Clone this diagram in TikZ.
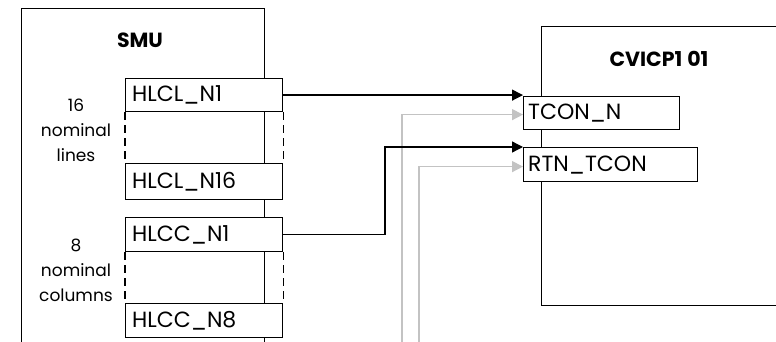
\documentclass[tikz,border=0pt]{standalone}
\usepackage{fontspec}
\setmainfont{Poppins}
\usetikzlibrary{arrows.meta}
\definecolor{lgrey}{RGB}{195,195,195}
\tikzset{
  container/.style={draw=black, line width=1.2pt, anchor=north west, inner sep=0pt},
  port/.style={draw=black, fill=white, line width=1.2pt, anchor=north west, inner sep=0pt,
    minimum height=#1},
  porttext/.style={anchor=west, inner sep=0pt, font=\fontsize{22}{24}\selectfont},
  title/.style={font=\fontsize{20.5}{24}\selectfont\bfseries, inner sep=0pt},
  note/.style={align=center, inner sep=0pt, font=\fontsize{17}{25}\selectfont},
  dashedge/.style={line width=1.2pt, dash pattern=on 8pt off 5pt},
  wire/.style={line width=1.3pt, -{Triangle[length=11pt,width=11pt]}},
  greywire/.style={line width=1.4pt, draw=lgrey, -{Triangle[length=11pt,width=11pt,fill=lgrey]}}
}
\begin{document}
\begin{tikzpicture}[x=1pt,y=-1pt]
\useasboundingbox (0,0) rectangle (776,342);
\clip (0,0) rectangle (776,342);
% containers
\node[container, minimum width=243pt, minimum height=360pt] (smu) at (21,8) {};
\node[container, minimum width=260pt, minimum height=279pt] (cvi) at (541,26) {};
\node[title] (smut) at (140,40) {SMU};
\node[title] (cvit) at (659,59) {CVICP1\hspace{5pt}01};
% SMU ports
\node[port=33pt, minimum width=157pt] (hl1) at (125,78) {};
\node[porttext] at ([xshift=7pt]hl1.west) {HLCL\_N1};
\node[port=36pt, minimum width=157pt] (hl16) at (125,163) {};
\node[porttext] at ([xshift=7pt]hl16.west) {HLCL\_N16};
\node[port=34pt, minimum width=157pt] (hc1) at (125,217) {};
\node[porttext] at ([xshift=7pt]hc1.west) {HLCC\_N1};
\node[port=34pt, minimum width=157pt] (hc8) at (125,303) {};
\node[porttext] at ([xshift=7pt]hc8.west) {HLCC\_N8};
\draw[dashedge] (hl1.south west) -- (hl16.north west);
\draw[dashedge] (hl1.south east) -- (hl16.north east);
\draw[dashedge] (hc1.south west) -- (hc8.north west);
\draw[dashedge] (hc1.south east) -- (hc8.north east);
% notes
\node[note] (n16) at (76,130) {16\\nominal\\lines};
\node[note] (n8) at (76,270) {8\\nominal\\columns};
% CVICP ports
\node[port=33pt, minimum width=156pt] (tcon) at (523,96) {};
\node[porttext] at ([xshift=5pt]tcon.west) {TCON\_N};
\node[port=34pt, minimum width=174pt] (rtn) at (523,147) {};
\node[porttext] at ([xshift=5pt]rtn.west) {RTN\_TCON};
% wires
\coordinate (g1) at (402,350);
\coordinate (g2) at (419,350);
\coordinate (k2) at (385,0);
\draw[greywire] (g1) |- ([yshift=-1.5pt]tcon.west);
\draw[greywire] (g2) |- ([yshift=-2pt]rtn.west);
\draw[wire] (hl1.east) -- (hl1.east -| tcon.west);
\draw[wire] (hc1.east) -| (k2 |- rtn.north west) -- (rtn.north west);
\end{tikzpicture}
\end{document}
